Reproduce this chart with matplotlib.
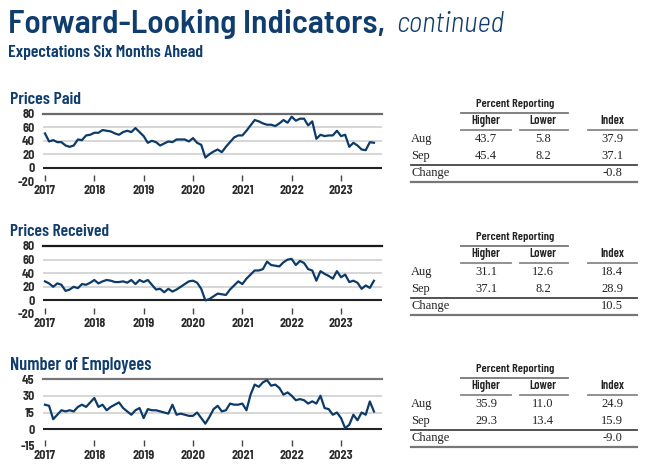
import matplotlib
matplotlib.use("Agg")
import matplotlib.pyplot as plt
from matplotlib.lines import Line2D
import numpy as np

W, H = 657, 472
BLUE = "#0f3d6e"
LINE = "#0c3b69"
NARROW = ["Barlow Semi Condensed", "DejaVu Sans"]
COND = ["Barlow Condensed", "DejaVu Sans"]
SERIF = ["Liberation Serif", "DejaVu Serif"]

years = [2017, 2018, 2019, 2020, 2021, 2022, 2023]
start_year = 2017

prices_paid = [51, 39, 41, 38, 38, 33, 31, 33, 42, 41, 48, 49,
               52, 52, 56, 55, 54, 51, 49, 53, 55, 53, 59, 53,
               47, 37, 40, 38, 33, 36, 39, 38, 42, 42, 42, 39, 44, 37, 34, 15,
               20, 24, 27, 23, 31, 38, 45, 48, 48, 55, 63, 71, 69, 66, 64, 64, 62, 66, 71, 67,
               76, 70, 73, 73, 63, 69, 43, 49, 47, 48, 48, 55, 47, 49, 31, 37, 33, 27, 26, 37.9, 37.1]

prices_received = [28, 25, 20, 25, 23, 14, 16, 20, 18, 24, 23, 26,
                   30, 25, 28, 30, 29, 27, 27, 28, 26, 30, 24, 30,
                   27, 30, 23, 16, 17, 12, 17, 13, 16, 20, 24, 28, 29, 26, 17, 0,
                   2, 6, 10, 9, 8, 16, 22, 28, 24, 32, 38, 44, 44, 46,
                   57, 52, 51, 50, 56, 60,
                   61, 52, 58, 55, 46, 44, 29, 43, 39, 36, 32, 43, 34, 38, 27, 29, 26, 17, 22, 18.4, 28.9]

employees = [22, 21, 9, 13, 17, 16, 17, 16, 20, 22, 20, 24,
             28, 20, 22, 17, 20, 22, 24, 19, 16, 13, 17, 19,
             10, 18, 17, 17, 16, 15, 14, 22, 13, 14, 13, 12, 12, 15, 10, 5,
             11, 18, 21, 16, 17, 23, 22,
             22, 23, 17, 31, 40, 38, 42, 44, 39, 40, 37, 31, 33, 30, 26, 27, 26, 23, 25, 23,
             30, 19, 18, 13, 15, 10, 1, 4, 13, 8, 15, 13, 24.9, 15.9]

table_months = ["Aug", "Sep"]
pp_table = {"Higher": [43.7, 45.4], "Lower": [5.8, 8.2], "Index": [37.9, 37.1], "Change": -0.8}
pr_table = {"Higher": [31.1, 37.1], "Lower": [12.6, 8.2], "Index": [18.4, 28.9], "Change": 10.5}
em_table = {"Higher": [35.9, 29.3], "Lower": [11.0, 13.4], "Index": [24.9, 15.9], "Change": -9.0}

panels = [
    dict(title="Prices Paid", data=prices_paid, ylim=(-20, 80), ticks=[-20, 0, 20, 40, 60, 80],
         top=114, bottom=181, title_y=100, table=pp_table, dy=0, topcolor="#6a6a6a", tw=71),
    dict(title="Prices Received", data=prices_received, ylim=(-20, 80), ticks=[-20, 0, 20, 40, 60, 80],
         top=246, bottom=314, title_y=232, table=pr_table, dy=133, topcolor="#1a1a1a", tw=99),
    dict(title="Number of Employees", data=employees, ylim=(-15, 45), ticks=[-15, 0, 15, 30, 45],
         top=379, bottom=446, title_y=365, table=em_table, dy=265, topcolor="#777777", tw=141),
]

fig = plt.figure(figsize=(W / 100, H / 100), dpi=100)
fig.patch.set_facecolor("white")
renderer = fig.canvas.get_renderer()


def ftext(x, y, s, **kw):
    return fig.text(x / W, 1 - y / H, s, **kw)


def fit(t, width):
    for _ in range(3):
        w = t.get_window_extent(renderer).width
        t.set_fontsize(t.get_fontsize() * width / w)
    return t


def fline(x0, x1, y, color="#666666", lw=1.2):
    fig.add_artist(Line2D([x0 / W, x1 / W], [1 - y / H, 1 - y / H], color=color, lw=lw))


# Titles
fit(ftext(8, 24, "Forward-Looking Indicators,", fontsize=21, fontweight=600, color=BLUE,
          family=NARROW, va="center", ha="left"), 377)
fit(ftext(396, 24, "continued", fontsize=21, style="italic", fontweight=300, color=BLUE,
          family=NARROW, va="center", ha="left"), 108)
fit(ftext(8, 52, "Expectations Six Months Ahead", fontsize=10.5, fontweight=600, color=BLUE,
          family=COND, va="center", ha="left"), 195)

left_px, right_px = 43, 382
for p in panels:
    ax = fig.add_axes([left_px / W, 1 - p["bottom"] / H, (right_px - left_px) / W,
                       (p["bottom"] - p["top"]) / H])
    x = start_year + np.arange(len(p["data"])) / 12.0
    ax.plot(x, p["data"], color=LINE, lw=1.6, zorder=3, solid_joinstyle="round")
    ax.set_xlim(2016.96, 2023.83)
    ax.set_ylim(*p["ylim"])
    for s in ax.spines.values():
        s.set_visible(False)
    t = p["ticks"]
    for v in t[1:-1]:
        if v == 0:
            continue
        ax.axhline(v, color="#cfcfcf", lw=1.2, zorder=1)
    ax.axhline(0, color="#222222", lw=1.5, zorder=2)
    ax.axhline(t[-1], color=p["topcolor"], lw=1.6, zorder=2, clip_on=False)
    ax.set_yticks(t)
    ax.set_yticklabels([str(v) for v in t])
    ax.set_xticks(years)
    ax.set_xticklabels([str(y) for y in years])
    ax.tick_params(axis="y", length=0, pad=6, labelsize=8.8, labelcolor="#2a2a2a")
    ax.tick_params(axis="x", direction="in", length=4, width=1, color="#444444", pad=3,
                   labelsize=8.8, labelcolor="#2a2a2a")
    for lab in ax.get_xticklabels() + ax.get_yticklabels():
        lab.set_fontweight("bold")
        lab.set_family(NARROW)
    ax.set_facecolor("none")
    fit(ftext(10, p["title_y"], p["title"], fontsize=12.5, fontweight=600, color=BLUE,
              family=COND, va="center", ha="left"), p["tw"])

    # table
    dy = p["dy"]
    tb = p["table"]
    hx, lx, ix = 486, 543, 612
    fit(ftext(515, 104 + dy, "Percent Reporting", fontsize=8.3, fontweight=600, color="#222222",
              family=COND, ha="center", va="center"), 79)
    fline(461, 568, 113 + dy, color="#777777", lw=1.3)
    for cx, lab, (a, b), wd in [(hx, "Higher", (461, 511), 29), (lx, "Lower", (520, 568), 27),
                                (ix, "Index", (588, 637), 24)]:
        fit(ftext(cx, 121 + dy, lab, fontsize=8.3, fontweight=600, color="#222222",
                  family=COND, ha="center", va="center"), wd)
        fline(a, b, 129.5 + dy, color="#888888", lw=1.3)
    for r, (m, ry) in enumerate(zip(table_months, [139, 156])):
        ftext(411, ry + dy, m, fontsize=9, color="#222222", family=SERIF, ha="left", va="center")
        for cx, key in [(hx, "Higher"), (lx, "Lower"), (ix, "Index")]:
            ftext(cx, ry + dy, f"{tb[key][r]:.1f}", fontsize=9, color="#222222", family=SERIF,
                  ha="center", va="center")
    fline(411, 637, 164.5 + dy, color="#444444", lw=1.3)
    ftext(411, 173 + dy, "Change", fontsize=9, color="#222222", family=SERIF, ha="left", va="center")
    ftext(ix, 173 + dy, f"{tb['Change']:.1f}", fontsize=9, color="#222222", family=SERIF,
          ha="center", va="center")
    fline(411, 637, 182 + dy, color="#777777", lw=1.6)

fig.savefig("out.png", dpi=100, facecolor="white")
